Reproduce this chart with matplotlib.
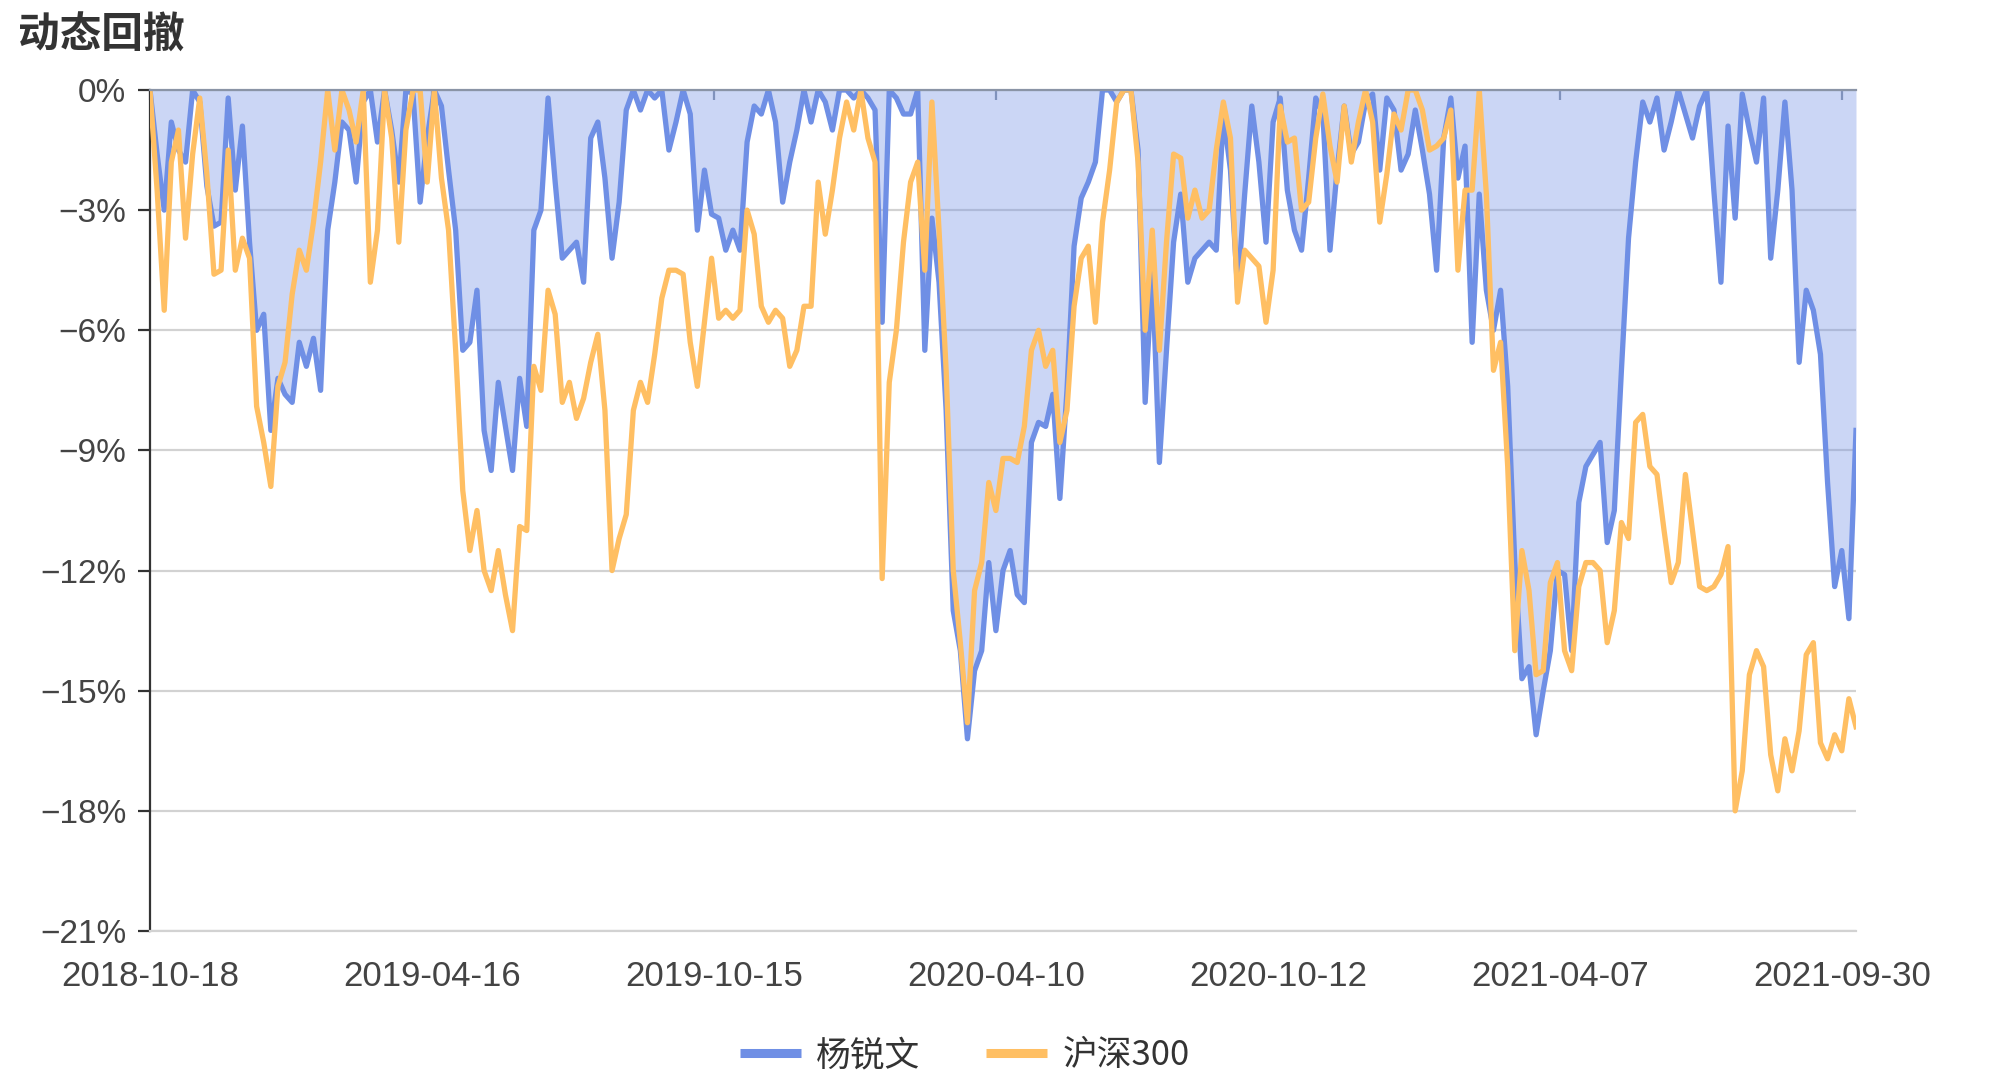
import numpy as np
import matplotlib.pyplot as plt
from matplotlib.lines import Line2D

plt.rcParams['font.family'] = ['Liberation Sans', 'Noto Sans CJK SC', 'DejaVu Sans']

# drawdown in %, one reading every 3 trading days from 2018-10-18
step = 3
yang = [
    0, -1.6, -3.0, -0.8, -1.5, -1.8, 0, -0.3, -2.4, -3.4, -3.3, -0.2, -2.5, -0.9, -3.8, -6.0,
    -5.6, -8.5, -7.2, -7.6, -7.8, -6.3, -6.9, -6.2, -7.5, -3.5, -2.3, -0.8, -1.0, -2.3, -0.3, 0,
    -1.3, 0, -1.0, -2.3, 0, -0.1, -2.8, -1.2, 0, -0.4, -2.0, -3.5, -6.5, -6.3, -5.0, -8.5,
    -9.5, -7.3, -8.4, -9.5, -7.2, -8.4, -3.5, -3.0, -0.2, -2.3, -4.2, -4.0, -3.8, -4.8, -1.2, -0.8,
    -2.2, -4.2, -2.8, -0.5, 0, -0.5, 0, -0.2, 0, -1.5, -0.8, 0, -0.6, -3.5, -2.0, -3.1,
    -3.2, -4.0, -3.5, -4.0, -1.3, -0.4, -0.6, 0, -0.8, -2.8, -1.8, -1.0, 0, -0.8, 0, -0.3, -1.0,
    0, 0, -0.2, 0, -0.2, -0.5, -5.8, 0, -0.2, -0.6, -0.6, 0, -6.5, -3.2, -4.8, -8.0,
    -13.0, -14.0, -16.2, -14.5, -14.0, -11.8, -13.5, -12.0, -11.5, -12.6, -12.8, -8.8, -8.3, -8.4, -7.6, -10.2,
    -7.5, -3.9, -2.7, -2.3, -1.8, 0, 0, -0.3, 0, 0, -1.5, -7.8, -4.5, -9.3, -6.5, -3.8, -2.6,
    -4.8, -4.2, -4.0, -3.8, -4.0, -0.6, -2.0, -5.0, -2.6, -0.4, -1.8, -3.8, -0.8, -0.2, -2.5, -3.5,
    -4.0, -2.2, -0.2, -0.6, -4.0, -2.0, -0.4, -1.6, -1.3, -0.3, -0.1, -2.0, -0.2, -0.5, -2.0, -1.6,
    -0.5, -1.5, -2.6, -4.5, -1.2, -0.2, -2.2, -1.4, -6.3, -2.6, -5.0, -6.0, -5.0, -7.4, -11.8, -14.7,
    -14.4, -16.1, -15.0, -14.0, -12.0, -12.1, -14.0, -10.3, -9.4, -9.1, -8.8, -11.3, -10.5, -7.0, -3.7, -1.8,
    -0.3, -0.8, -0.2, -1.5, -0.8, 0, -0.6, -1.2, -0.4, 0, -2.5, -4.8, -0.9, -3.2, -0.1, -1.0,
    -1.8, -0.2, -4.2, -2.5, -0.3, -2.5, -6.8, -5.0, -5.5, -6.6, -9.8, -12.4, -11.5, -13.2, -8.5,
]
hs300 = [
    0, -2.5, -5.5, -1.8, -1.0, -3.7, -1.6, -0.2, -2.1, -4.6, -4.5, -1.5, -4.5, -3.7, -4.2, -7.9,
    -8.8, -9.9, -7.4, -6.8, -5.1, -4.0, -4.5, -3.3, -1.8, 0, -1.5, 0, -0.5, -1.3, 0, -4.8,
    -3.5, 0, -1.2, -3.8, -1.0, 0, 0, -2.3, 0, -2.2, -3.5, -6.5, -10.0, -11.5, -10.5, -12.0,
    -12.5, -11.5, -12.6, -13.5, -10.9, -11.0, -6.9, -7.5, -5.0, -5.6, -7.8, -7.3, -8.2, -7.7, -6.8, -6.1,
    -8.0, -12.0, -11.2, -10.6, -8.0, -7.3, -7.8, -6.6, -5.2, -4.5, -4.5, -4.6, -6.3, -7.4, -5.8, -4.2,
    -5.7, -5.5, -5.7, -5.5, -3.0, -3.6, -5.4, -5.8, -5.5, -5.7, -6.9, -6.5, -5.4, -5.4, -2.3, -3.6, -2.5,
    -1.2, -0.3, -1.0, 0, -1.2, -1.8, -12.2, -7.3, -6.0, -3.8, -2.3, -1.8, -4.5, -0.3, -3.5, -7.0,
    -12.0, -13.8, -15.8, -12.5, -11.8, -9.8, -10.5, -9.2, -9.2, -9.3, -8.4, -6.5, -6.0, -6.9, -6.5, -8.8,
    -8.0, -5.4, -4.2, -3.9, -5.8, -3.3, -2.0, -0.3, 0, 0, -1.8, -6.0, -3.5, -6.5, -3.8, -1.6, -1.7,
    -3.2, -2.5, -3.2, -3.0, -1.5, -0.3, -1.2, -5.3, -4.0, -4.2, -4.4, -5.8, -4.5, -0.4, -1.3, -1.2,
    -3.0, -2.8, -1.2, -0.1, -1.4, -2.3, -0.4, -1.8, -0.8, 0, -0.8, -3.3, -2.1, -0.6, -1.0, 0,
    0, -0.5, -1.5, -1.4, -1.2, -0.5, -4.5, -2.5, -2.5, 0, -2.6, -7.0, -6.3, -9.4, -14.0, -11.5,
    -12.5, -14.6, -14.5, -12.3, -11.8, -14.0, -14.5, -12.4, -11.8, -11.8, -12.0, -13.8, -13.0, -10.8, -11.2, -8.3,
    -8.1, -9.4, -9.6, -11.0, -12.3, -11.8, -9.6, -11.0, -12.4, -12.5, -12.4, -12.1, -11.4, -18.0, -17.0, -14.6,
    -14.0, -14.4, -16.6, -17.5, -16.2, -17.0, -16.0, -14.1, -13.8, -16.3, -16.7, -16.1, -16.5, -15.2, -15.9,
]
series_names = ['杨锐文', '沪深300']
tick_days = [0, 119, 238, 357, 476, 595, 714]
tick_dates = ['2018-10-18', '2019-04-16', '2019-10-15', '2020-04-10',
              '2020-10-12', '2021-04-07', '2021-09-30']
y_ticks = [0, -3, -6, -9, -12, -15, -18, -21]

blue = '#6F8FE5'
orange = '#FFBF63'
axis_grey = '#8A94A6'
grid_grey = '#D2D2D2'

day = np.arange(len(yang)) * step

fig = plt.figure(figsize=(19.92, 10.8), dpi=100)
ax = fig.add_axes([150 / 1992, 1 - 931 / 1080, 1706 / 1992, 841 / 1080])

ax.fill_between(day, yang, 0, color=blue, alpha=0.36, lw=0, zorder=2)
ax.plot(day, yang, color=blue, lw=3.8, zorder=3)
ax.plot(day, hs300, color=orange, lw=3.8, zorder=4)

ax.set_xlim(0, 720)
ax.set_ylim(-21, 0)
ax.set_yticks(y_ticks)
ax.set_yticklabels([f'{v}%'.replace('-', '\u2212') for v in y_ticks])
ax.set_xticks(tick_days)
ax.set_xticklabels(tick_dates)

ax.yaxis.grid(True, color=grid_grey, lw=1.6, zorder=1)
ax.set_axisbelow(True)

ax.spines['right'].set_visible(False)
ax.spines['left'].set_color('#333333')
ax.spines['left'].set_linewidth(1.6)
ax.spines['top'].set_color(axis_grey)
ax.spines['top'].set_linewidth(1.6)
ax.spines['top'].set_zorder(5)
ax.spines['bottom'].set_color(grid_grey)
ax.spines['bottom'].set_linewidth(1.6)

ax.tick_params(axis='y', length=9, width=1.6, color='#333333',
               labelsize=24, labelcolor='#444444', pad=8)
ax.tick_params(axis='x', bottom=False, top=True, labelbottom=True, labeltop=False,
               direction='in', length=7, width=1.6, color=axis_grey,
               labelsize=25, labelcolor='#444444', pad=21)

fig.text(18 / 1992, 1 - 15 / 1080, '动态回撤', fontsize=30, fontweight='bold',
         va='top', ha='left', color='#333333', family=['Noto Sans CJK SC'])

handles = [Line2D([], [], color=blue, lw=6.5, solid_capstyle='butt'),
           Line2D([], [], color=orange, lw=6.5, solid_capstyle='butt')]
fig.legend(handles, series_names, loc='center', bbox_to_anchor=(965 / 1992, 1 - 1056 / 1080),
           ncol=2, frameon=False, handlelength=1.75, handletextpad=0.45, columnspacing=1.9,
           prop={'family': ['Noto Sans CJK SC'], 'size': 25}, labelcolor='#333333')

fig.savefig('out.png', dpi=100)
